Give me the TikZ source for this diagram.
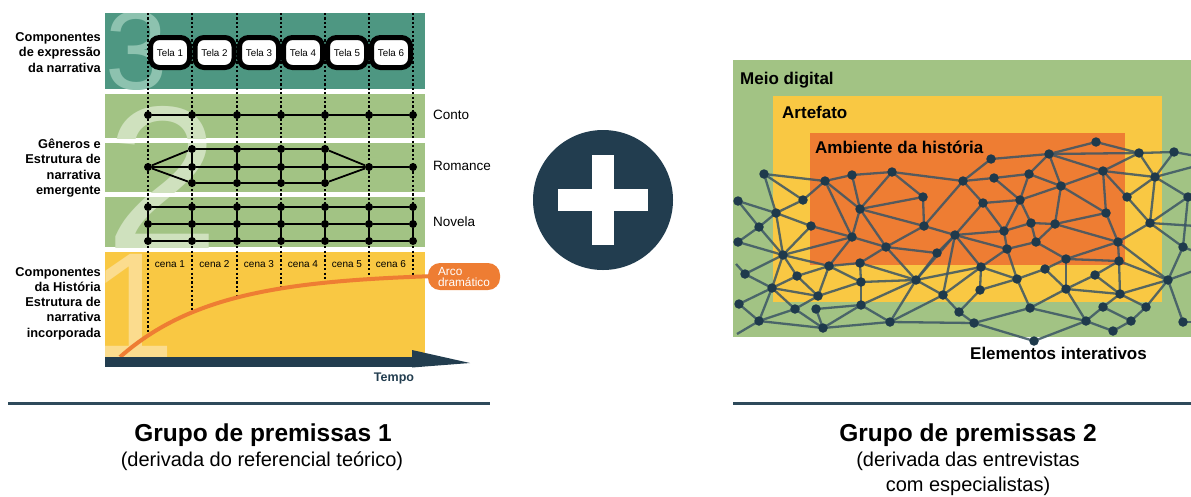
\documentclass[tikz,border=0pt]{standalone}
\usepackage{fontspec}
\setmainfont{Liberation Sans}
\newcommand\setfs[2]{\fontsize{#1}{#2}\selectfont}

\definecolor{tealband}{HTML}{4E9782}
\definecolor{greenband}{HTML}{A2C384}
\definecolor{yellowband}{HTML}{F9C843}
\definecolor{orangeband}{HTML}{EE7D33}
\definecolor{navy}{HTML}{223D4F}
\definecolor{numthree}{HTML}{8DC2AF}
\definecolor{numtwo}{HTML}{CFE1BE}
\definecolor{numone}{HTML}{FBDC8E}
\definecolor{meshline}{HTML}{3B5565}
\definecolor{meshnode}{HTML}{1F3A4C}
\definecolor{rulecol}{HTML}{2E4A5B}

\begin{document}
\begin{tikzpicture}[x=1pt,y=-1pt,
  gdot/.style={circle,fill=black,inner sep=0pt,minimum size=8pt},
  gline/.style={line width=1.8pt},
  vdot/.style={line width=1.5pt,dash pattern=on 2.2pt off 2.2pt},
  telabox/.style={draw=black,line width=5pt,fill=white,rounded corners=9pt,
    minimum width=39pt,minimum height=30pt,inner sep=0pt,font=\setfs{9.8}{11}},
  cenalabel/.style={inner sep=0pt,font=\setfs{10}{12}},
  sidelabel/.style={anchor=east,align=right,inner sep=0pt,font=\bfseries\setfs{12.8}{15.2}},
  genlabel/.style={anchor=west,inner sep=0pt,font=\setfs{13.5}{16}},
  boxlabel/.style={anchor=base west,inner sep=0pt,font=\bfseries\setfs{17}{20}},
  meshdot/.style={circle,fill=meshnode,inner sep=0pt,minimum size=9.5pt},
  meshedge/.style={line width=2.3pt,draw=meshline,opacity=0.85},
  titlelabel/.style={anchor=base,inner sep=0pt,font=\bfseries\setfs{24.5}{28}},
  sublabel/.style={anchor=base,inner sep=0pt,font=\setfs{20}{24}}]
\useasboundingbox (0,0) rectangle (1191,496);

% ---------- left panel: layered bands ----------
\fill[tealband] (105,13) rectangle (425,89);
\fill[greenband] (105,94) rectangle (425,138);
\fill[greenband] (105,143) rectangle (425,192);
\fill[greenband] (105,197) rectangle (425,247);
\fill[yellowband] (105,252) rectangle (425,357);

% large layer numerals
\begin{scope}
  \clip (105,13) rectangle (425,89);
  \node[anchor=base west,inner sep=0pt,text=numthree,font=\setfs{112}{112}] at (105,89) {3};
\end{scope}
\begin{scope}
  \clip (105,94) rectangle (425,138) (105,143) rectangle (425,192) (105,197) rectangle (425,247);
  \node[anchor=base west,inner sep=0pt,text=numtwo,font=\setfs{205}{205}] at (105,249) {2};
\end{scope}
\begin{scope}
  \clip (105,252) rectangle (425,357);
  \node[anchor=base west,inner sep=0pt,text=numone,font=\setfs{150}{150}] at (91,357) {1};
\end{scope}

% dotted time marks, ending on the dramatic arc
\foreach \x in {148,192,237,281,325,369,413}
  \draw[vdot] (\x,13) -- (\x,{273+84*exp(-(\x-120)/95)});

% dramatic arc
\draw[orangeband,line width=4pt] plot[domain=120:432,samples=80] (\x,{273+84*exp(-(\x-120)/95)});
\node[fill=orangeband,rounded corners=12pt,minimum width=72pt,minimum height=27pt,inner sep=0pt,
  text=white,align=left,font=\setfs{11.8}{11}] (arco) at (464,276.5) {Arco\\dramático};

% Conto
\foreach \x [count=\i] in {148,192,237,281,325,369,413}
  \node[gdot] (c\i) at (\x,115) {};
\foreach \i [evaluate=\i as \j using int(\i+1)] in {1,...,6}
  \draw[gline] (c\i) -- (c\j);

% Romance
\node[gdot] (rm1) at (148,167) {};
\foreach \x [count=\i from 2] in {192,237,281,325} {
  \node[gdot] (rt\i) at (\x,149) {};
  \node[gdot] (rm\i) at (\x,167) {};
  \node[gdot] (rb\i) at (\x,183) {};
}
\node[gdot] (rm6) at (369,167) {};
\node[gdot] (rm7) at (413,167) {};
\draw[gline] (rm1) -- (rt2);
\draw[gline] (rm1) -- (rb2);
\draw[gline] (rt5) -- (rm6);
\draw[gline] (rb5) -- (rm6);
\foreach \i [evaluate=\i as \j using int(\i+1)] in {1,...,6}
  \draw[gline] (rm\i) -- (rm\j);
\foreach \i [evaluate=\i as \j using int(\i+1)] in {2,3,4} {
  \draw[gline] (rt\i) -- (rt\j);
  \draw[gline] (rb\i) -- (rb\j);
}
\foreach \i in {2,...,5} {
  \draw[gline] (rt\i) -- (rm\i);
  \draw[gline] (rm\i) -- (rb\i);
}

% Novela
\foreach \x [count=\i] in {148,192,237,281,325,369,413} {
  \node[gdot] (na\i) at (\x,207) {};
  \node[gdot] (nb\i) at (\x,224) {};
  \node[gdot] (nc\i) at (\x,241) {};
  \draw[gline] (na\i) -- (nb\i);
  \draw[gline] (nb\i) -- (nc\i);
}
\foreach \i [evaluate=\i as \j using int(\i+1)] in {1,...,6} {
  \draw[gline] (na\i) -- (na\j);
  \draw[gline] (nb\i) -- (nb\j);
  \draw[gline] (nc\i) -- (nc\j);
}

% screens
\foreach \x [count=\i] in {170,214.5,259,303,347,391}
  \node[telabox] (t\i) at (\x,52.5) {Tela \i};

% scenes
\foreach \x [count=\i] in {170,214.5,259,303,347,391}
  \node[cenalabel] (s\i) at (\x,264) {cena \i};

% genre labels
\node[genlabel] (conto) at (433,115) {Conto};
\node[genlabel] (romance) at (433,166) {Romance};
\node[genlabel] (novela) at (433,222) {Novela};

% layer labels
\node[sidelabel] (lay3) at (101,52.5) {Componentes\\de expressão\\da narrativa};
\node[sidelabel] (lay2) at (101,168) {Gêneros e\\Estrutura de\\narrativa\\emergente};
\node[sidelabel] (lay1) at (101,303.5) {Componentes\\da História\\Estrutura de\\narrativa\\incorporada};

% time axis
\fill[navy] (105,357) rectangle (414,367);
\fill[navy] (412,350) -- (470,363) -- (412,367.5) -- cycle;
\node[inner sep=0pt,text=navy,font=\bfseries\setfs{12.5}{14}] (tempo) at (394,378) {Tempo};

% ---------- plus sign ----------
\fill[navy] (603,200) circle (70);
\fill[white] (592,155) rectangle (614,245);
\fill[white] (558,189) rectangle (648,211);

% ---------- right panel: nested contexts ----------
\fill[greenband] (733,60) rectangle (1191,337);
\fill[yellowband] (773,96) rectangle (1162,302);
\fill[orangeband] (810,133) rectangle (1125,265);
\node[boxlabel] (meio) at (740,84) {Meio digital};
\node[boxlabel] (artefato) at (782,118) {Artefato};
\node[boxlabel] (ambiente) at (815,153) {Ambiente da história};

% interactive elements mesh
\begin{scope}
\clip (0,0) rectangle (1191,496);
\foreach \i/\x/\y in {
  1/764/174, 2/738/201, 3/776/213, 4/803/200, 5/759/227, 6/738/242, 7/811/226,
  8/783/255, 9/745/274, 10/797/276, 11/772/288, 12/739/304, 13/795/309, 14/759/321,
  15/818/296, 16/816/309, 17/823/328, 18/829/266, 19/825/181, 20/852/175, 21/892/172,
  22/860/209, 23/852/237, 24/860/263, 25/861/282, 26/861/305, 27/886/247, 28/890/322,
  29/923/197, 30/924/226, 31/937/253, 32/916/280, 33/943/295, 34/959/312, 35/974/323,
  36/963/181, 37/955/235, 38/983/203, 39/991/159, 40/994/178, 41/981/267, 42/980/290,
  43/1004/231, 44/1007/249, 45/1020/200, 46/1029/174, 47/1031/223, 48/1036/242,
  49/1017/279, 50/1030/308, 51/1049/154, 52/1061/186, 53/1055/224, 54/1045/269,
  55/1066/259, 56/1066/289, 57/1096/142, 58/1103/171, 59/1106/213, 60/1095/275,
  61/1118/242, 62/1119/261, 63/1120/294, 64/1103/307, 65/1086/321, 66/1034/341,
  67/1127/197, 68/1139/153, 69/1155/177, 70/1150/223, 71/1168/280, 72/1146/307,
  73/1131/321, 74/1113/331, 75/1174/152, 76/1188/197, 77/1183/247, 78/1183/322}
  \coordinate (m\i) at (\x,\y);
\coordinate (ml1) at (736,264);
\coordinate (ml2) at (737,334);
\coordinate (mr1) at (1196,156);
\coordinate (mr2) at (1196,166);
\coordinate (mr3) at (1196,226);
\coordinate (mr4) at (1196,252);
\coordinate (mr5) at (1196,270);
\coordinate (mr6) at (1196,322);
\coordinate (mr7) at (1196,202);
\foreach \a/\b in {
  1/19, 1/3, 1/4, 2/3, 2/5, 3/4, 3/5, 3/7, 3/8, 5/6, 5/8, 6/8, 4/19, 7/8, 7/23,
  8/9, 8/10, 8/11, 8/18, 8/23, 9/11, 10/11, 10/18, 10/15, 11/12, 11/13, 11/14,
  12/14, 13/14, 13/15, 11/15, 13/17, 14/17, 15/18, 15/25, 16/17, 16/26, 17/26,
  17/28, 18/23, 18/24, 18/25, 19/20, 19/22, 19/23, 20/21, 20/22, 21/22, 21/36,
  21/29, 22/23, 22/29, 22/30, 22/27, 23/27, 24/25, 24/27, 25/26, 24/32, 25/32,
  26/32, 26/28, 27/30, 27/31, 27/32, 28/32, 28/33, 28/35, 29/30, 30/36, 30/37,
  31/32, 31/37, 32/33, 32/37, 32/41, 33/37, 33/41, 33/34, 34/35, 34/42, 35/50,
  35/66, 36/39, 36/40, 36/38, 37/38, 37/43, 37/44, 37/41, 38/45, 38/43, 39/51,
  40/46, 40/45, 41/42, 41/44, 41/49, 42/49, 43/44, 43/45, 43/47, 44/48, 44/49,
  45/46, 45/47, 45/52, 46/51, 46/52, 47/48, 47/53, 48/53, 48/55, 49/54, 49/50,
  50/56, 50/65, 51/57, 51/68, 51/52, 51/58, 52/53, 52/58, 52/59, 53/59, 53/61,
  54/55, 54/56, 55/56, 55/61, 55/62, 56/60, 56/63, 56/65, 57/68, 58/68, 58/69,
  58/59, 58/67, 59/61, 60/62, 60/63, 61/62, 61/70, 61/71, 62/63, 62/71, 63/71,
  63/64, 63/72, 64/65, 64/73, 65/74, 65/66, 67/69, 67/70, 68/69, 68/75, 69/75,
  69/70, 69/76, 70/76, 70/77, 71/77, 71/72, 71/78, 72/73, 73/74, 76/77}
  \draw[meshedge] (m\a) -- (m\b);
\draw[meshedge] (ml1) -- (m9);
\draw[meshedge] (ml2) -- (m14);
\draw[meshedge] (m75) -- (mr1);
\draw[meshedge] (m69) -- (mr2);
\draw[meshedge] (m70) -- (mr3);
\draw[meshedge] (m77) -- (mr4);
\draw[meshedge] (m71) -- (mr5);
\draw[meshedge] (m78) -- (mr6);
\draw[meshedge] (m76) -- (mr7);
\foreach \i in {1,...,78}
  \node[meshdot] (d\i) at (m\i) {};
\end{scope}
\node[anchor=base,inner sep=0pt,font=\bfseries\setfs{17}{20}] (elementos) at (1058.5,359) {Elementos interativos};

% ---------- captions ----------
\draw[rulecol,line width=3pt] (8,403) -- (490,403);
\draw[rulecol,line width=3pt] (733,403) -- (1191,403);
\node[titlelabel] (g1) at (263,441) {Grupo de premissas 1};
\node[sublabel] (g1sub) at (262,466) {(derivada do referencial teórico)};
\node[titlelabel] (g2) at (968,441) {Grupo de premissas 2};
\node[sublabel] (g2sub) at (968,466) {(derivada das entrevistas};
\node[sublabel] (g2sub2) at (968,491) {com especialistas)};
\end{tikzpicture}
\end{document}
